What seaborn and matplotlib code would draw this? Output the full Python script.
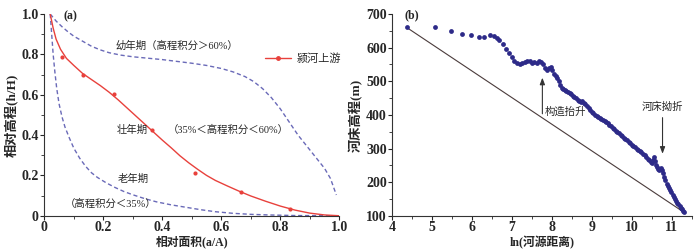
import seaborn as sns
import matplotlib.pyplot as plt
from matplotlib.lines import Line2D
from matplotlib.ticker import MultipleLocator

sns.set_style("ticks")
plt.rcParams['font.family'] = ['Liberation Serif', 'Noto Sans CJK SC']
plt.rcParams['axes.unicode_minus'] = False

# (a) 面积-高程积分曲线
red_x = [0.02, 0.03, 0.04, 0.055, 0.075, 0.10, 0.13, 0.16, 0.19, 0.22, 0.25, 0.28,
         0.31, 0.34, 0.37, 0.40, 0.43, 0.46, 0.49, 0.52, 0.55, 0.58, 0.62, 0.66,
         0.70, 0.75, 0.80, 0.85, 0.90, 0.95, 1.0]
red_y = [1.0, 0.93, 0.875, 0.825, 0.78, 0.745, 0.705, 0.675, 0.645, 0.612, 0.575, 0.535,
         0.495, 0.455, 0.415, 0.375, 0.337, 0.297, 0.262, 0.23, 0.2, 0.175, 0.148, 0.122,
         0.098, 0.072, 0.048, 0.028, 0.013, 0.004, 0.0]
pts_x = [0.06, 0.131, 0.237, 0.365, 0.512, 0.666, 0.833]
pts_y = [0.788, 0.698, 0.603, 0.425, 0.21, 0.119, 0.032]

young_x = [0.02, 0.04, 0.06, 0.08, 0.10, 0.13, 0.16, 0.19, 0.22, 0.26, 0.30, 0.35,
           0.40, 0.45, 0.50, 0.55, 0.60, 0.64, 0.68, 0.71, 0.74, 0.77, 0.80, 0.83,
           0.86, 0.89, 0.92, 0.95, 0.97, 0.99]
young_y = [1.0, 0.965, 0.937, 0.912, 0.89, 0.865, 0.84, 0.822, 0.808, 0.796, 0.788, 0.781,
           0.774, 0.765, 0.756, 0.745, 0.73, 0.713, 0.69, 0.665, 0.63, 0.585, 0.53, 0.465,
           0.40, 0.345, 0.29, 0.235, 0.185, 0.103]

old_x = [0.02, 0.025, 0.03, 0.036, 0.042, 0.05, 0.06, 0.07, 0.085, 0.10, 0.12, 0.14,
         0.16, 0.18, 0.21, 0.24, 0.27, 0.30, 0.34, 0.38, 0.43, 0.48, 0.53, 0.58,
         0.64, 0.70, 0.76, 0.85, 1.0]
old_y = [1.0, 0.9, 0.8, 0.71, 0.632, 0.555, 0.49, 0.44, 0.385, 0.335, 0.285, 0.245,
         0.213, 0.19, 0.163, 0.14, 0.12, 0.104, 0.085, 0.069, 0.054, 0.042, 0.03, 0.02,
         0.012, 0.007, 0.004, 0.001, 0.0]

# (b) 河床纵剖面
lnd = [4.36, 5.06, 5.47, 5.75, 5.97, 6.16, 6.31, 6.44, 6.54, 6.62, 6.68, 6.78, 6.85,
       6.92, 6.99, 7.05, 7.12, 7.19, 7.26, 7.32, 7.38, 7.44, 7.50, 7.56, 7.62, 7.68,
       7.73, 7.78, 7.83, 7.88, 7.93, 7.97, 8.01, 8.05, 8.09, 8.13, 8.17, 8.21, 8.24,
       8.28, 8.32, 8.36, 8.40, 8.44, 8.48, 8.52, 8.56, 8.60, 8.64, 8.68, 8.72, 8.76,
       8.80, 8.84, 8.88, 8.92, 8.96, 9.00, 9.04, 9.08, 9.12, 9.16, 9.20, 9.24, 9.28,
       9.32, 9.36, 9.40, 9.44, 9.48, 9.52, 9.56, 9.60, 9.64, 9.68, 9.72, 9.76, 9.80,
       9.84, 9.88, 9.92, 9.96, 10.00, 10.04, 10.08, 10.12, 10.16, 10.20, 10.24, 10.28,
       10.32, 10.36, 10.40, 10.44, 10.48, 10.51, 10.54, 10.56, 10.58, 10.60, 10.63,
       10.66, 10.69, 10.72, 10.75, 10.78, 10.81, 10.84, 10.87, 10.90, 10.93, 10.96,
       10.99, 11.02, 11.05, 11.08, 11.11, 11.14, 11.17, 11.20, 11.23, 11.26, 11.29, 11.31]
elev = [662, 662, 649, 641, 637, 633, 631, 637, 635, 630, 623, 611, 596,
        583, 571, 560, 554, 551, 553, 557, 561, 559, 555, 557, 555, 559,
        558, 550, 540, 532, 540, 543, 533, 522, 515, 510, 502, 490, 481,
        477, 474, 471, 469, 466, 462, 457, 453, 449, 445, 441, 439, 440,
        436, 432, 425, 420, 415, 410, 405, 401, 398, 395, 391, 388, 385,
        382, 380, 376, 371, 367, 362, 357, 352, 349, 345, 341, 336, 332,
        329, 325, 320, 315, 311, 307, 304, 300, 296, 293, 290, 285,
        280, 275, 270, 265, 259, 256, 266, 275, 262, 250, 246,
        240, 236, 243, 235, 228, 215, 205, 195, 188, 182, 176,
        170, 163, 156, 150, 144, 138, 134, 130, 124, 119, 114, 110]
ref_x = [4.36, 11.31]
ref_y = [660, 110]

red = '#e8413c'
dash_c = '#6a6ab8'
dot_c = '#2d2a88'
bold_num = dict(family='Liberation Serif', weight='bold', size=10)

fig = plt.figure(figsize=(7, 2.5), dpi=100)
ax1 = fig.add_axes([0.0633, 0.137, 0.4214, 0.807])
ax2 = fig.add_axes([0.5604, 0.137, 0.4277, 0.807])

# ---- (a)
sns.lineplot(x=young_x, y=young_y, ax=ax1, color=dash_c, lw=1, sort=False,
             linestyle=(0, (3, 2)))
sns.lineplot(x=old_x, y=old_y, ax=ax1, color=dash_c, lw=1, sort=False,
             linestyle=(0, (3, 2)))
sns.lineplot(x=red_x, y=red_y, ax=ax1, color=red, lw=1, sort=False)
sns.scatterplot(x=pts_x, y=pts_y, ax=ax1, color=red, s=9, linewidth=0, zorder=5)

ax1.set_xlim(0, 1.0)
ax1.set_ylim(0, 1.0)
ax1.xaxis.set_minor_locator(MultipleLocator(0.1))
ax1.yaxis.set_minor_locator(MultipleLocator(0.1))
ax1.set_xticks([0, 0.2, 0.4, 0.6, 0.8, 1.0])
ax1.set_xticklabels(['0', '0.2', '0.4', '0.6', '0.8', '1.0'], **bold_num)
ax1.set_yticks([0, 0.2, 0.4, 0.6, 0.8, 1.0])
ax1.set_yticklabels(['0', '0.2', '0.4', '0.6', '0.8', '1.0'], **bold_num)
ax1.set_xlabel('相对面积(a/A)', fontsize=8.5, weight='bold', labelpad=1)
ax1.set_ylabel('相对高程(h/H)', fontsize=9.5, weight='bold', labelpad=2)

ax1.text(0.065, 0.99, '(a)', fontsize=8.5, weight='bold', va='center')
ax1.text(0.24, 0.845, '幼年期（高程积分＞60%）', fontsize=7.5, va='center')
ax1.text(0.245, 0.425, '壮年期', fontsize=7.5, va='center')
ax1.text(0.42, 0.425, '（35%＜高程积分＜60%）', fontsize=7.5, va='center')
ax1.text(0.25, 0.185, '老年期', fontsize=7.5, va='center')
ax1.text(0.07, 0.06, '（高程积分＜35%）', fontsize=7.5, va='center')

h = Line2D([], [], color=red, lw=1, marker='o', markersize=2.5)
ax1.legend([h], ['颍河上游'], loc='center left', bbox_to_anchor=(0.715, 0.78),
           frameon=False, fontsize=8, handlelength=2.3, handletextpad=0.5)

# ---- (b)
sns.lineplot(x=ref_x, y=ref_y, ax=ax2, color='#4a3b3b', lw=0.8)
sns.scatterplot(x=lnd, y=elev, ax=ax2, color=dot_c, s=12, linewidth=0, zorder=5)

ax2.set_xlim(4, 11.5)
ax2.set_ylim(100, 700)
ax2.xaxis.set_minor_locator(MultipleLocator(0.5))
ax2.yaxis.set_minor_locator(MultipleLocator(50))
ax2.set_xticks(range(4, 12))
ax2.set_xticklabels([str(v) for v in range(4, 12)], **bold_num)
ax2.set_yticks(range(100, 701, 100))
ax2.set_yticklabels([str(v) for v in range(100, 701, 100)], **bold_num)
ax2.set_xlabel('ln(河源距离)', fontsize=8.5, weight='bold', labelpad=1)
ax2.set_ylabel('河床高程(m)', fontsize=9.5, weight='bold', labelpad=2)
ax2.text(4.3, 697, '(b)', fontsize=8.5, weight='bold', va='center')

ax2.annotate('', xy=(7.76, 519), xytext=(7.76, 395),
             arrowprops=dict(arrowstyle='-|>,head_length=0.4,head_width=0.15',
                             color='#333333', lw=0.8))
ax2.text(7.82, 408, '构造抬升', fontsize=7.5, va='center')
ax2.annotate('', xy=(10.77, 276), xytext=(10.77, 400),
             arrowprops=dict(arrowstyle='-|>,head_length=0.4,head_width=0.15',
                             color='#333333', lw=0.8))
ax2.text(10.77, 423, '河床拗折', fontsize=7.5, va='center', ha='center')

for ax in (ax1, ax2):
    sns.despine(ax=ax)
    ax.tick_params(which='major', length=3, width=0.8, pad=1)
    ax.tick_params(which='minor', length=2, width=0.6)
    for s in ('left', 'bottom'):
        ax.spines[s].set_linewidth(0.8)
        ax.spines[s].set_color('#333333')

plt.savefig('out.png', dpi=100)
